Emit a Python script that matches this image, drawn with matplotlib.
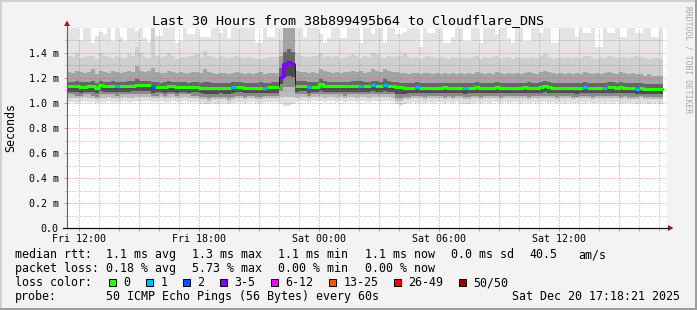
import numpy as np
import matplotlib
matplotlib.use("Agg")
import matplotlib.pyplot as plt
from matplotlib.lines import Line2D
from matplotlib.patches import Rectangle, Polygon

# smokeping: 50 pings every 60s, one column = 12 minutes, first column Fri 11:24
start_hour = 11.4      # hours since Fri 00:00
step_hour = 0.2

# median rtt per column (ms)
median_rtt = [
    1.136, 1.136, 1.136, 1.128, 1.128, 1.133, 1.133, 1.117, 1.144, 1.136,
    1.136, 1.136, 1.133, 1.136, 1.136, 1.136, 1.140, 1.144, 1.144, 1.144,
    1.144, 1.125, 1.130, 1.130, 1.125, 1.136, 1.136, 1.125, 1.130, 1.130,
    1.128, 1.130, 1.130, 1.122, 1.122, 1.120, 1.120, 1.120, 1.122, 1.117,
    1.117, 1.125, 1.130, 1.130, 1.120, 1.120, 1.122, 1.120, 1.120, 1.120,
    1.125, 1.125, 1.125, 1.205, 1.310, 1.330, 1.310, 1.136, 1.140, 1.140,
    1.125, 1.130, 1.130, 1.150, 1.136, 1.136, 1.136, 1.133, 1.133, 1.133,
    1.133, 1.137, 1.137, 1.140, 1.133, 1.133, 1.144, 1.137, 1.137, 1.148,
    1.137, 1.137, 1.125, 1.125, 1.120, 1.120, 1.120, 1.125, 1.120, 1.120,
    1.122, 1.120, 1.120, 1.122, 1.125, 1.120, 1.120, 1.122, 1.120, 1.117,
    1.120, 1.122, 1.125, 1.122, 1.120, 1.120, 1.122, 1.125, 1.122, 1.120,
    1.120, 1.122, 1.120, 1.122, 1.125, 1.122, 1.120, 1.122, 1.125, 1.137,
    1.125, 1.122, 1.122, 1.120, 1.120, 1.122, 1.120, 1.117, 1.120, 1.125,
    1.120, 1.120, 1.122, 1.120, 1.120, 1.125, 1.125, 1.122, 1.125, 1.122,
    1.120, 1.120, 1.115, 1.117, 1.112, 1.112, 1.110, 1.112, 1.110,
]

# lost pings per column (out of 50)
lost_pings = [
    0, 0, 0, 0, 0, 0, 0, 0, 0, 0,
    0, 0, 1, 0, 0, 0, 0, 0, 0, 0,
    0, 2, 0, 0, 0, 0, 0, 0, 0, 0,
    0, 0, 0, 0, 0, 0, 0, 0, 0, 0,
    0, 1, 0, 0, 0, 0, 0, 0, 0, 1,
    0, 0, 0, 3, 4, 5, 4, 0, 0, 0,
    1, 0, 0, 0, 0, 0, 0, 0, 0, 0,
    0, 0, 0, 1, 0, 0, 1, 0, 0, 1,
    0, 0, 0, 0, 0, 0, 0, 1, 0, 0,
    0, 0, 0, 0, 0, 0, 0, 0, 0, 1,
    0, 0, 0, 0, 0, 0, 0, 0, 0, 0,
    0, 0, 0, 0, 0, 0, 0, 0, 0, 0,
    0, 0, 0, 0, 0, 0, 0, 0, 0, 1,
    0, 0, 0, 0, 1, 0, 0, 0, 0, 0,
    0, 0, 1, 0, 0, 0, 0, 0, 0,
]

# sorted ping levels per column (ms): min, 5th, 10th, 18th ... 33rd, 40th, 46th, max ping
ping_min = [
    1.01, 1.01, 1.00, 1.01, 1.02, 1.01, 1.01, 1.00, 1.01, 1.01,
    1.02, 1.01, 1.01, 1.01, 1.02, 1.01, 1.01, 1.02, 1.01, 1.02,
    1.02, 1.01, 1.01, 1.02, 1.01, 1.01, 1.02, 1.01, 1.01, 1.02,
    1.01, 1.01, 1.01, 1.00, 0.99, 0.99, 1.00, 0.99, 1.00, 1.00,
    0.99, 1.00, 1.01, 1.01, 1.00, 1.01, 1.01, 1.00, 1.00, 1.01,
    1.01, 1.01, 1.01, 1.00, 0.98, 0.98, 0.99, 1.01, 1.02, 1.02,
    1.01, 1.02, 1.02, 1.02, 1.01, 1.02, 1.02, 1.01, 1.02, 1.01,
    1.02, 1.02, 1.01, 1.02, 1.02, 1.01, 1.02, 1.02, 1.01, 1.02,
    1.02, 1.01, 0.99, 0.98, 0.99, 1.00, 1.01, 1.00, 1.01, 1.00,
    1.01, 1.00, 1.01, 1.01, 1.00, 1.01, 1.00, 1.01, 1.00, 0.99,
    0.99, 1.00, 1.01, 1.00, 1.01, 1.00, 1.01, 1.01, 1.00, 1.01,
    1.00, 1.01, 1.01, 1.00, 1.01, 1.00, 1.01, 1.00, 1.01, 1.01,
    1.00, 1.01, 1.00, 1.01, 1.00, 1.01, 1.00, 1.00, 1.01, 1.00,
    1.01, 1.00, 1.00, 1.01, 1.00, 1.01, 1.00, 1.01, 1.00, 1.00,
    1.00, 1.00, 0.99, 1.00, 1.00, 0.99, 1.00, 1.00, 0.99,
]
ping_p05 = [
    1.04, 1.04, 1.04, 1.04, 1.05, 1.04, 1.04, 1.03, 1.04, 1.04,
    1.05, 1.04, 1.04, 1.04, 1.05, 1.04, 1.04, 1.05, 1.05, 1.05,
    1.05, 1.04, 1.04, 1.05, 1.04, 1.04, 1.05, 1.04, 1.04, 1.05,
    1.04, 1.04, 1.04, 1.03, 1.03, 1.02, 1.03, 1.03, 1.03, 1.03,
    1.02, 1.03, 1.04, 1.04, 1.03, 1.04, 1.04, 1.03, 1.03, 1.04,
    1.04, 1.04, 1.04, 1.05, 1.05, 1.05, 1.05, 1.04, 1.05, 1.05,
    1.04, 1.05, 1.05, 1.05, 1.04, 1.05, 1.05, 1.04, 1.05, 1.04,
    1.05, 1.05, 1.04, 1.05, 1.05, 1.04, 1.05, 1.05, 1.05, 1.05,
    1.05, 1.04, 1.02, 1.02, 1.03, 1.03, 1.04, 1.04, 1.04, 1.03,
    1.04, 1.04, 1.04, 1.04, 1.03, 1.04, 1.03, 1.04, 1.04, 1.03,
    1.03, 1.04, 1.04, 1.03, 1.04, 1.04, 1.04, 1.04, 1.03, 1.04,
    1.04, 1.04, 1.04, 1.04, 1.04, 1.03, 1.04, 1.04, 1.04, 1.04,
    1.04, 1.04, 1.03, 1.04, 1.04, 1.04, 1.03, 1.04, 1.04, 1.04,
    1.04, 1.03, 1.04, 1.04, 1.04, 1.04, 1.04, 1.04, 1.03, 1.04,
    1.03, 1.03, 1.03, 1.04, 1.03, 1.03, 1.03, 1.03, 1.03,
]
ping_p10 = [
    1.07, 1.07, 1.06, 1.06, 1.07, 1.07, 1.06, 1.05, 1.07, 1.07,
    1.07, 1.07, 1.06, 1.07, 1.07, 1.07, 1.07, 1.07, 1.07, 1.07,
    1.07, 1.06, 1.06, 1.07, 1.06, 1.07, 1.07, 1.06, 1.07, 1.07,
    1.07, 1.06, 1.06, 1.05, 1.05, 1.04, 1.05, 1.05, 1.05, 1.05,
    1.04, 1.05, 1.06, 1.06, 1.05, 1.06, 1.06, 1.05, 1.05, 1.06,
    1.06, 1.06, 1.06, 1.10, 1.13, 1.13, 1.13, 1.07, 1.07, 1.07,
    1.06, 1.07, 1.07, 1.07, 1.07, 1.07, 1.07, 1.07, 1.07, 1.06,
    1.07, 1.07, 1.07, 1.07, 1.07, 1.07, 1.07, 1.07, 1.07, 1.07,
    1.07, 1.07, 1.04, 1.04, 1.05, 1.05, 1.06, 1.06, 1.06, 1.05,
    1.06, 1.06, 1.06, 1.06, 1.05, 1.06, 1.05, 1.06, 1.06, 1.05,
    1.05, 1.06, 1.06, 1.05, 1.06, 1.06, 1.06, 1.06, 1.05, 1.06,
    1.06, 1.06, 1.06, 1.06, 1.06, 1.05, 1.06, 1.06, 1.06, 1.06,
    1.06, 1.06, 1.05, 1.06, 1.06, 1.06, 1.05, 1.05, 1.06, 1.06,
    1.06, 1.05, 1.06, 1.06, 1.06, 1.06, 1.06, 1.06, 1.05, 1.06,
    1.05, 1.05, 1.05, 1.06, 1.05, 1.05, 1.05, 1.05, 1.05,
]
ping_p18 = [
    1.09, 1.09, 1.09, 1.08, 1.09, 1.09, 1.09, 1.08, 1.10, 1.09,
    1.09, 1.09, 1.09, 1.09, 1.09, 1.09, 1.10, 1.10, 1.10, 1.10,
    1.10, 1.08, 1.09, 1.09, 1.08, 1.09, 1.09, 1.08, 1.09, 1.09,
    1.08, 1.09, 1.09, 1.08, 1.07, 1.07, 1.07, 1.07, 1.08, 1.07,
    1.07, 1.08, 1.09, 1.09, 1.08, 1.08, 1.08, 1.08, 1.08, 1.08,
    1.08, 1.08, 1.08, 1.15, 1.21, 1.22, 1.21, 1.09, 1.10, 1.10,
    1.08, 1.09, 1.09, 1.10, 1.09, 1.09, 1.09, 1.09, 1.09, 1.09,
    1.09, 1.09, 1.09, 1.09, 1.09, 1.09, 1.10, 1.09, 1.09, 1.10,
    1.09, 1.09, 1.07, 1.07, 1.07, 1.08, 1.08, 1.08, 1.08, 1.08,
    1.08, 1.08, 1.08, 1.08, 1.08, 1.08, 1.08, 1.08, 1.08, 1.07,
    1.08, 1.08, 1.08, 1.08, 1.08, 1.08, 1.08, 1.08, 1.08, 1.08,
    1.08, 1.08, 1.08, 1.08, 1.08, 1.08, 1.08, 1.08, 1.08, 1.09,
    1.08, 1.08, 1.08, 1.08, 1.08, 1.08, 1.08, 1.07, 1.08, 1.08,
    1.08, 1.08, 1.08, 1.08, 1.08, 1.08, 1.08, 1.08, 1.08, 1.08,
    1.08, 1.08, 1.07, 1.07, 1.07, 1.07, 1.07, 1.07, 1.07,
]
ping_p33 = [
    1.17, 1.17, 1.18, 1.17, 1.17, 1.17, 1.18, 1.16, 1.18, 1.17,
    1.17, 1.18, 1.17, 1.17, 1.17, 1.18, 1.18, 1.19, 1.18, 1.18,
    1.18, 1.17, 1.17, 1.16, 1.17, 1.18, 1.17, 1.17, 1.17, 1.17,
    1.16, 1.17, 1.17, 1.16, 1.17, 1.17, 1.16, 1.16, 1.16, 1.16,
    1.16, 1.17, 1.17, 1.17, 1.16, 1.16, 1.16, 1.16, 1.17, 1.16,
    1.16, 1.17, 1.17, 1.28, 1.41, 1.43, 1.41, 1.18, 1.18, 1.18,
    1.17, 1.17, 1.17, 1.19, 1.18, 1.17, 1.17, 1.17, 1.17, 1.17,
    1.17, 1.18, 1.18, 1.18, 1.17, 1.17, 1.18, 1.18, 1.17, 1.19,
    1.18, 1.17, 1.17, 1.16, 1.16, 1.16, 1.16, 1.17, 1.16, 1.16,
    1.16, 1.16, 1.16, 1.16, 1.16, 1.16, 1.16, 1.16, 1.16, 1.16,
    1.16, 1.16, 1.17, 1.16, 1.16, 1.16, 1.16, 1.17, 1.16, 1.16,
    1.16, 1.16, 1.16, 1.16, 1.16, 1.17, 1.16, 1.16, 1.17, 1.18,
    1.17, 1.16, 1.16, 1.16, 1.16, 1.16, 1.16, 1.16, 1.16, 1.17,
    1.16, 1.16, 1.16, 1.16, 1.16, 1.17, 1.17, 1.16, 1.17, 1.16,
    1.16, 1.16, 1.16, 1.16, 1.15, 1.15, 1.15, 1.15, 1.15,
]
ping_p40 = [
    1.25, 1.24, 1.26, 1.25, 1.24, 1.25, 1.27, 1.23, 1.26, 1.25,
    1.24, 1.26, 1.25, 1.24, 1.25, 1.26, 1.25, 1.30, 1.26, 1.25,
    1.26, 1.28, 1.25, 1.24, 1.24, 1.26, 1.25, 1.24, 1.25, 1.24,
    1.24, 1.25, 1.25, 1.24, 1.27, 1.25, 1.24, 1.23, 1.24, 1.24,
    1.23, 1.24, 1.25, 1.24, 1.23, 1.24, 1.23, 1.24, 1.25, 1.23,
    1.24, 1.24, 1.24, 1.38, 1.62, 1.62, 1.62, 1.26, 1.25, 1.25,
    1.24, 1.25, 1.24, 1.27, 1.26, 1.25, 1.24, 1.25, 1.24, 1.25,
    1.25, 1.26, 1.25, 1.26, 1.24, 1.25, 1.27, 1.26, 1.25, 1.27,
    1.26, 1.25, 1.25, 1.24, 1.24, 1.23, 1.24, 1.24, 1.23, 1.24,
    1.24, 1.23, 1.24, 1.23, 1.24, 1.23, 1.24, 1.23, 1.24, 1.23,
    1.24, 1.23, 1.25, 1.24, 1.23, 1.24, 1.23, 1.25, 1.24, 1.23,
    1.24, 1.23, 1.24, 1.23, 1.24, 1.25, 1.24, 1.23, 1.25, 1.26,
    1.25, 1.24, 1.23, 1.24, 1.23, 1.24, 1.23, 1.24, 1.23, 1.25,
    1.24, 1.23, 1.24, 1.23, 1.24, 1.25, 1.24, 1.23, 1.25, 1.24,
    1.23, 1.24, 1.23, 1.23, 1.22, 1.23, 1.22, 1.22, 1.22,
]
ping_p46 = [
    1.38, 1.37, 1.40, 1.36, 1.37, 1.38, 1.38, 1.35, 1.40, 1.38,
    1.37, 1.36, 1.38, 1.37, 1.36, 1.39, 1.38, 1.45, 1.40, 1.37,
    1.36, 1.70, 1.38, 1.37, 1.38, 1.40, 1.38, 1.35, 1.37, 1.37,
    1.38, 1.38, 1.39, 1.37, 1.42, 1.38, 1.37, 1.36, 1.38, 1.37,
    1.36, 1.37, 1.38, 1.37, 1.36, 1.37, 1.36, 1.35, 1.35, 1.36,
    1.37, 1.37, 1.37, 1.50, 1.70, 1.70, 1.70, 1.40, 1.38, 1.37,
    1.37, 1.38, 1.38, 1.40, 1.37, 1.38, 1.37, 1.38, 1.36, 1.37,
    1.38, 1.39, 1.38, 1.36, 1.38, 1.37, 1.40, 1.39, 1.37, 1.36,
    1.38, 1.37, 1.38, 1.38, 1.39, 1.37, 1.36, 1.37, 1.35, 1.37,
    1.38, 1.37, 1.36, 1.37, 1.36, 1.35, 1.37, 1.36, 1.37, 1.36,
    1.36, 1.37, 1.38, 1.35, 1.37, 1.36, 1.37, 1.38, 1.36, 1.37,
    1.37, 1.35, 1.37, 1.36, 1.36, 1.36, 1.37, 1.36, 1.38, 1.39,
    1.37, 1.35, 1.36, 1.37, 1.36, 1.37, 1.36, 1.37, 1.36, 1.38,
    1.38, 1.36, 1.35, 1.37, 1.36, 1.38, 1.37, 1.36, 1.37, 1.37,
    1.36, 1.37, 1.38, 1.37, 1.36, 1.35, 1.36, 1.36, 1.35,
]
ping_max = [
    1.75, 1.75, 1.75, 1.50, 1.75, 1.75, 1.48, 1.54, 1.57, 1.55,
    1.75, 1.50, 1.75, 1.53, 1.50, 1.75, 1.75, 1.58, 1.75, 1.52,
    1.49, 1.75, 1.54, 1.54, 1.75, 1.75, 1.75, 1.48, 1.50, 1.75,
    1.55, 1.55, 1.75, 1.53, 1.53, 1.53, 1.75, 1.75, 1.56, 1.75,
    1.52, 1.75, 1.75, 1.75, 1.75, 1.75, 1.75, 1.48, 1.48, 1.75,
    1.53, 1.53, 1.75, 1.65, 1.80, 1.80, 1.80, 1.75, 1.75, 1.53,
    1.75, 1.75, 1.75, 1.55, 1.48, 1.52, 1.75, 1.75, 1.52, 1.52,
    1.75, 1.75, 1.75, 1.48, 1.75, 1.75, 1.55, 1.75, 1.75, 1.48,
    1.75, 1.75, 1.55, 1.55, 1.57, 1.75, 1.75, 1.75, 1.45, 1.75,
    1.56, 1.56, 1.75, 1.75, 1.48, 1.48, 1.53, 1.75, 1.75, 1.50,
    1.50, 1.75, 1.75, 1.48, 1.75, 1.75, 1.75, 1.55, 1.75, 1.75,
    1.52, 1.48, 1.75, 1.75, 1.50, 1.50, 1.75, 1.75, 1.56, 1.75,
    1.75, 1.48, 1.48, 1.75, 1.75, 1.75, 1.75, 1.53, 1.75, 1.56,
    1.56, 1.75, 1.45, 1.45, 1.75, 1.56, 1.56, 1.75, 1.53, 1.53,
    1.75, 1.75, 1.56, 1.56, 1.75, 1.75, 1.53, 1.53, 1.75,
]

# loss colour legend
loss_labels = ["0", "1", "2", "3-5", "6-12", "13-25", "26-49", "50/50"]
loss_lower = [0, 1, 2, 3, 6, 13, 26, 50]
loss_colors = ["#26ff00", "#00b8ff", "#0059ff", "#7e00ff", "#ff00ff", "#ff5500", "#ff0000", "#a10000"]

title = "Last 30 Hours from 38b899495b64 to Cloudflare_DNS"
x_tick_hours = [12, 15, 18, 21, 24, 27, 30, 33, 36, 39]
x_tick_labels = ["Fri 12:00", "", "Fri 18:00", "", "Sat 00:00", "", "Sat 06:00", "", "Sat 12:00", ""]
y_ticks = [0.0, 0.2, 0.4, 0.6, 0.8, 1.0, 1.2, 1.4]
y_tick_labels = ["0.0", "0.2 m", "0.4 m", "0.6 m", "0.8 m", "1.0 m", "1.2 m", "1.4 m"]

rtt_stats = ["1.1 ms avg", "1.3 ms max", "1.1 ms min", "1.1 ms now", "0.0 ms sd", "40.5", "am/s"]
loss_stats = ["0.18 % avg", "5.73 % max", "0.00 % min", "0.00 % now"]
probe_text = "50 ICMP Echo Pings (56 Bytes) every 60s"
stamp_text = "Sat Dec 20 17:18:21 2025"

W, H = 697, 310
MONO = "DejaVu Sans Mono"


def fx(x):
    return x / W


def fy(y):
    return 1 - y / H


fig = plt.figure(figsize=(W / 100, H / 100), dpi=100, facecolor="#f3f3f3")
ax = fig.add_axes([fx(67), fy(228), 600 / W, 200 / H])
ax.set_facecolor("white")

n = len(median_rtt)
edges = start_hour + step_hour * np.arange(n + 1)
med = np.array(median_rtt)

# smoke bands, light at the outside, dark next to the median
levels = [ping_min, ping_p05, ping_p10, ping_p18, median_rtt, ping_p33, ping_p40, ping_p46, ping_max]
band_colors = ["#dedede", "#bababa", "#8a8a8a", "#4c4c4c", "#666666", "#a4a4a4", "#cfcfcf", "#e4e4e4"]
for k, c in enumerate(band_colors):
    lo = np.append(levels[k], levels[k][-1])
    hi = np.append(levels[k + 1], levels[k + 1][-1])
    ax.fill_between(edges, lo, hi, step="post", color=c, linewidth=0, zorder=1)

# median line: thin black step plus loss coloured segments
ax.plot(edges, np.append(med, med[-1]), drawstyle="steps-post", color="#202020", lw=0.75, zorder=3)
cls = np.searchsorted(loss_lower, lost_pings, side="right") - 1
for k, c in enumerate(loss_colors):
    if not np.any(cls == k):
        continue
    yk = np.append(np.where(cls == k, med, np.nan), np.nan)
    ax.plot(edges, yk, drawstyle="steps-post", color=c, lw=2.2, solid_capstyle="butt", zorder=4)

ax.set_xlim(start_hour, start_hour + 30)
ax.set_ylim(0, 1.6)
ax.set_xticks(x_tick_hours)
ax.set_xticklabels(x_tick_labels, fontsize=7.2, family=MONO)
ax.set_xticks(np.arange(12, 42, 1), minor=True)
ax.set_yticks(y_ticks)
ax.set_yticklabels(y_tick_labels, fontsize=7.2, family=MONO)
ax.set_yticks(np.arange(0.1, 1.6, 0.2), minor=True)

ax.set_axisbelow(False)
ax.grid(which="major", color="#e05050", alpha=0.6, lw=0.72, linestyle=(0, (1, 1.5)))
ax.grid(which="minor", color="#808080", alpha=0.55, lw=0.72, linestyle=(0, (1, 1.5)))
ax.tick_params(which="major", length=2.5, width=0.72, color="#f08080", pad=2)
ax.tick_params(which="minor", length=1.8, width=0.72, color="#b0b0b0")
ax.tick_params(axis="y", which="major", pad=3.5)
for s in ax.spines.values():
    s.set_visible(False)

# axes lines and arrows
fig.add_artist(Line2D([fx(67), fx(67)], [fy(228), fy(25)], color="#606060", lw=0.8))
fig.add_artist(Line2D([fx(62.5), fx(668)], [fy(228), fy(228)], color="#101010", lw=0.9))
fig.add_artist(Polygon([(fx(67), fy(20.5)), (fx(64), fy(26)), (fx(70), fy(26))],
                       closed=True, color="#9a1a1a", lw=0))
fig.add_artist(Polygon([(fx(673.5), fy(228)), (fx(668), fy(225)), (fx(668), fy(231))],
                       closed=True, color="#9a1a1a", lw=0))

# frame shading
fig.add_artist(Rectangle((0, 0), 1, 2 / H, transform=fig.transFigure, color="#9c9c9c", lw=0))
fig.add_artist(Rectangle((1 - 2 / W, 0), 2 / W, 1, transform=fig.transFigure, color="#9c9c9c", lw=0))
fig.add_artist(Rectangle((0, 1 - 2 / H), 1 - 2 / W, 2 / H, transform=fig.transFigure, color="#d0d0d0", lw=0))
fig.add_artist(Rectangle((0, 2 / H), 2 / W, 1 - 4 / H, transform=fig.transFigure, color="#d0d0d0", lw=0))

fig.text(fx(347.5), fy(24), title, ha="center", va="baseline", fontsize=9.6, family=MONO)
fig.text(fx(11), fy(127), "Seconds", ha="center", va="center", rotation=90, fontsize=8.4, family=MONO)
fig.text(fx(688), fy(60), "RRDTOOL / TOBI OETIKER", ha="center", va="center", rotation=270,
         fontsize=5.8, family=MONO, color="#a8a8a8")

# legend block
leg = dict(fontsize=8.4, family=MONO, va="baseline", ha="left")
row_y = [258, 272, 286, 300]
fig.text(fx(15.3), fy(row_y[0]), "median rtt:", **leg)
for txt, x in zip(rtt_stats, [106.5, 192.5, 278.5, 365, 451, 529.3, 578.6]):
    fig.text(fx(x), fy(row_y[0]), txt, **leg)
fig.text(fx(15.3), fy(row_y[1]), "packet loss:", **leg)
for txt, x in zip(loss_stats, [106.5, 192.5, 278.5, 365]):
    fig.text(fx(x), fy(row_y[1]), txt, **leg)
fig.text(fx(15.3), fy(row_y[2]), "loss color:", **leg)
for lab, col, x in zip(loss_labels, loss_colors, [109, 146, 183, 220, 271, 329, 394, 459]):
    fig.add_artist(Rectangle((fx(x), fy(285.5)), 7 / W, 7 / H, transform=fig.transFigure,
                             facecolor=col, edgecolor="black", lw=0.72))
    fig.text(fx(x + 14.3), fy(row_y[2]), lab, **leg)
fig.text(fx(15.3), fy(row_y[3]), "probe:", **leg)
fig.text(fx(106.5), fy(row_y[3]), probe_text, **leg)
fig.text(fx(680.5), fy(row_y[3]), stamp_text, fontsize=8.4, family=MONO, va="baseline", ha="right")

fig.savefig("out.png", dpi=100, facecolor=fig.get_facecolor())
